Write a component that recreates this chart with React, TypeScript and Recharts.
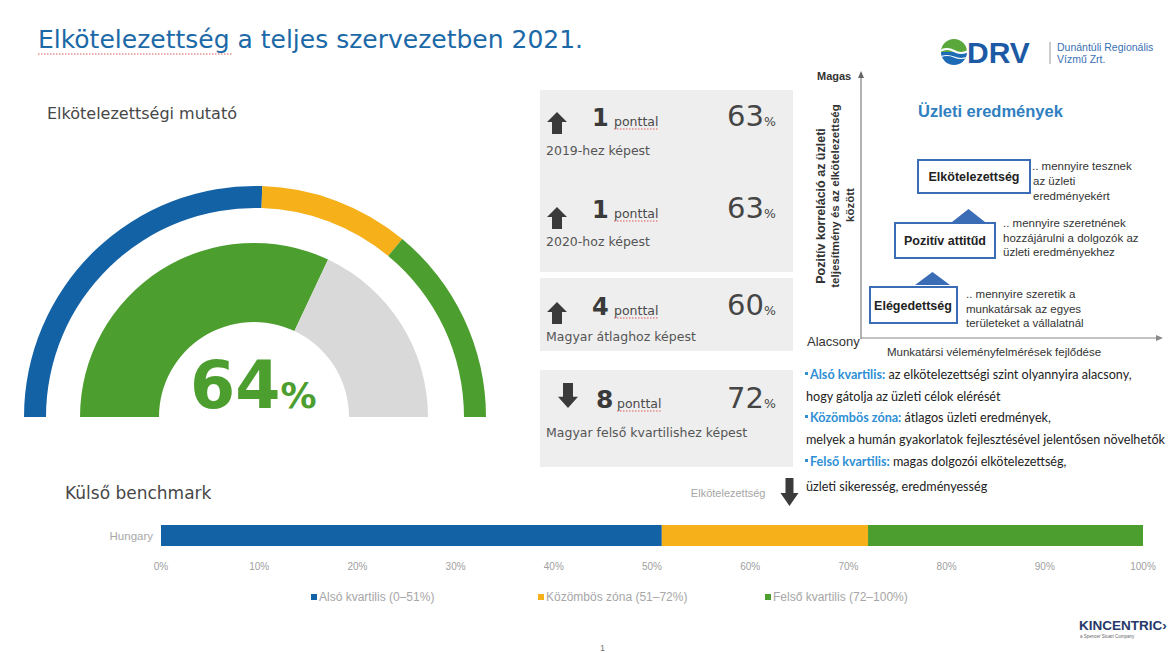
import React from 'react';
import { PieChart, Pie, Cell, BarChart, Bar, XAxis, YAxis, ReferenceLine } from 'recharts';

// quartile bands (benchmark + outer gauge ring)
const quartileKeys = ['also', 'kozombos', 'felso'];
const quartileNames = ['Alsó kvartilis', 'Közömbös zóna', 'Felső kvartilis'];
const quartileRanges = ['0–51%', '51–72%', '72–100%'];
const quartileWidths = [51, 21, 28];
const quartileColors = ['#1462a6', '#f5b01a', '#4c9e2f'];

// engagement gauge
const engagementScore = 64;
const gaugeNames = ['Elkötelezettség', 'Hátralévő'];
const gaugeValues = [64, 36];
const gaugeColors = ['#4c9e2f', '#d9d9d9'];

const benchmarkCategories = ['Hungary'];
const percentTicks = [0, 10, 20, 30, 40, 50, 60, 70, 80, 90, 100];

// comparison cards
const cardDeltas = [1, 1, 4, 8];
const cardUp = [true, true, true, false];
const cardComparisons = [
  '2019-hez képest',
  '2020-hoz képest',
  'Magyar átlaghoz képest',
  'Magyar felső kvartilishez képest',
];
const cardValues = [63, 63, 60, 72];

const SANS = 'DejaVu Sans';
const ARIAL = 'Liberation Sans';

const ringData = quartileNames.map((name, i) => ({ name, value: quartileWidths[i] }));
const gaugeData = gaugeNames.map((name, i) => ({ name, value: gaugeValues[i] }));
const benchmarkData = benchmarkCategories.map((name) => {
  const row: Record<string, string | number> = { name };
  quartileKeys.forEach((k, i) => {
    row[k] = quartileWidths[i];
  });
  return row;
});

function ArrowMarker({ viewBox }: any) {
  if (!viewBox) return null;
  const x = viewBox.x;
  const top = viewBox.y - 32;
  return (
    <g>
      <text x={x - 24} y={viewBox.y - 13} textAnchor="end" fontSize={11} fill="#a6a6a6" fontFamily={ARIAL}>
        Elkötelezettség
      </text>
      <path
        d={`M${x - 4} ${top} L${x + 4} ${top} L${x + 4} ${top + 15} L${x + 9} ${top + 15} L${x} ${top + 28} L${x - 9} ${top + 15} L${x - 4} ${top + 15} Z`}
        fill="#3b3b3b"
      />
    </g>
  );
}

function StatArrow({ cx, top, up, h }: { cx: number; top: number; up: boolean; h: number }) {
  const hw = 10;
  const sw = 5;
  const hh = h * 0.45;
  const d = up
    ? `M${cx} ${top} L${cx + hw} ${top + hh} L${cx + sw} ${top + hh} L${cx + sw} ${top + h} L${cx - sw} ${top + h} L${cx - sw} ${top + hh} L${cx - hw} ${top + hh} Z`
    : `M${cx} ${top + h} L${cx + hw} ${top + h - hh} L${cx + sw} ${top + h - hh} L${cx + sw} ${top} L${cx - sw} ${top} L${cx - sw} ${top + h - hh} L${cx - hw} ${top + h - hh} Z`;
  return <path d={d} fill="#3a3a3a" />;
}

const cardBoxes = [
  { top: 90, bottom: 180, main: 126, sub: 155, arrowX: 557, arrowTop: 112, arrowH: 22, numX: 592, pX: 614 },
  { top: 180, bottom: 272, main: 218, sub: 246, arrowX: 557, arrowTop: 207, arrowH: 22, numX: 592, pX: 614 },
  { top: 278, bottom: 351, main: 315, sub: 341, arrowX: 557, arrowTop: 302, arrowH: 22, numX: 592, pX: 614 },
  { top: 370, bottom: 467, main: 408, sub: 437, arrowX: 568, arrowTop: 383, arrowH: 25, numX: 596, pX: 617 },
];

function Background() {
  return (
    <svg width={1176} height={653} style={{ position: 'absolute', left: 0, top: 0 }}>
      {/* title */}
      <text x={38} y={48} fontSize={25} fill="#1c69a8" fontFamily={SANS}>
        Elkötelezettség a teljes szervezetben 2021.
      </text>
      <line x1={38} y1={54} x2={232} y2={54} stroke="#e05a5a" strokeWidth={1} strokeDasharray="1.5 1.5" />
      <text x={47} y={119} fontSize={16} fill="#474747" fontFamily={SANS}>
        Elkötelezettségi mutató
      </text>

      {/* DRV logo */}
      <defs>
        <clipPath id="drvclip">
          <circle cx={954} cy={52} r={13} />
        </clipPath>
      </defs>
      <g clipPath="url(#drvclip)">
        <rect x={940} y={38} width={28} height={14} fill="#5aa83c" />
        <rect x={940} y={52} width={28} height={14} fill="#1d6bb5" />
        <path d="M940 51 Q947 47 954 51 T968 51" stroke="#fff" strokeWidth={2.2} fill="none" />
        <path d="M940 57 Q947 54 954 57 T968 57" stroke="#fff" strokeWidth={1.1} fill="none" />
      </g>
      <text x={967} y={63} fontSize={30} fontWeight="bold" fill="#1c5aa6" fontFamily={ARIAL}>
        DRV
      </text>
      <line x1={1050} y1={42} x2={1050} y2={64} stroke="#9a9a9a" strokeWidth={1} />
      <text x={1057} y={51} fontSize={10.5} fill="#3a70b5" fontFamily={ARIAL}>
        Dunántúli Regionális
      </text>
      <text x={1057} y={63} fontSize={10.5} fill="#3a70b5" fontFamily={ARIAL}>
        Vízmű Zrt.
      </text>

      {/* gauge value */}
      <text x={190} y={408} fontSize={65} fontWeight="bold" fill="#4c9e2f" fontFamily={SANS}>
        {engagementScore}
        <tspan fontSize={36}>%</tspan>
      </text>

      {/* comparison cards */}
      {cardBoxes.map((b, i) => (
        <g key={i}>
          <rect x={540} y={b.top} width={253} height={b.bottom - b.top} fill="#eeeeee" />
          <StatArrow cx={b.arrowX} top={b.arrowTop} up={cardUp[i]} h={b.arrowH} />
          <text x={b.numX} y={b.main} fontSize={i === 3 ? 25 : 24} fontWeight="bold" fill="#3a3a3a" fontFamily={SANS}>
            {cardDeltas[i]}
          </text>
          <text x={b.pX} y={b.main} fontSize={12.5} fill="#4a4a4a" fontFamily={SANS}>
            ponttal
          </text>
          <line x1={b.pX} y1={b.main + 3} x2={b.pX + 44} y2={b.main + 3} stroke="#e05a5a" strokeWidth={1} strokeDasharray="1.5 1.5" />
          <text x={727} y={b.main} fontSize={29} fill="#454545" fontFamily={SANS}>
            {cardValues[i]}
            <tspan fontSize={12.5}>%</tspan>
          </text>
          <text x={546} y={b.sub} fontSize={12.5} fill="#555" fontFamily={SANS}>
            {cardComparisons[i]}
          </text>
        </g>
      ))}

      {/* right-hand diagram */}
      <text x={817} y={80} fontSize={11} fontWeight="bold" fill="#333" fontFamily={ARIAL}>
        Magas
      </text>
      <line x1={861} y1={339} x2={861} y2={75} stroke="#666" strokeWidth={1} />
      <path d="M858 78 L861 71 L864 78 Z" fill="#666" />
      <line x1={861} y1={338} x2={1158} y2={338} stroke="#888" strokeWidth={1} />
      <path d="M1156 335 L1163 338 L1156 341 Z" fill="#888" />
      <text x={807} y={346} fontSize={13} fill="#333" fontFamily={ARIAL}>
        Alacsony
      </text>
      <text x={887} y={356} fontSize={11.5} fill="#333" fontFamily={ARIAL}>
        Munkatársi véleményfelmérések fejlődése
      </text>
      <g transform="translate(825,206) rotate(-90)">
        <text textAnchor="middle" fontSize={12.5} fontWeight="bold" fill="#333" fontFamily={ARIAL}>
          Pozitív korreláció az üzleti
        </text>
      </g>
      <g transform="translate(839,196) rotate(-90)">
        <text textAnchor="middle" fontSize={11.5} fontWeight="bold" fill="#333" fontFamily={ARIAL}>
          teljesítmény és az elkötelezettség
        </text>
      </g>
      <g transform="translate(854,205) rotate(-90)">
        <text textAnchor="middle" fontSize={11.5} fontWeight="bold" fill="#333" fontFamily={ARIAL}>
          között
        </text>
      </g>
      <text x={918} y={117} fontSize={16.5} fontWeight="bold" fill="#2f7fc1" fontFamily={ARIAL}>
        Üzleti eredmények
      </text>

      <rect x={918} y={160} width={112} height={33} fill="#fff" stroke="#3a6db5" strokeWidth={2} />
      <text x={974} y={181} textAnchor="middle" fontSize={12.5} fontWeight="bold" fill="#222" fontFamily={ARIAL}>
        Elkötelezettség
      </text>
      <path d="M952 222 L968.5 209 L985 222 Z" fill="#3a6db5" />
      <rect x={895} y={223} width={100} height={35} fill="#fff" stroke="#3a6db5" strokeWidth={2} />
      <text x={945} y={245} textAnchor="middle" fontSize={12.5} fontWeight="bold" fill="#222" fontFamily={ARIAL}>
        Pozitív attitűd
      </text>
      <path d="M915 285 L932.5 272 L950 285 Z" fill="#3a6db5" />
      <rect x={870} y={287} width={87} height={36} fill="#fff" stroke="#3a6db5" strokeWidth={2} />
      <text x={913} y={310} textAnchor="middle" fontSize={12.5} fontWeight="bold" fill="#222" fontFamily={ARIAL}>
        Elégedettség
      </text>

      <g fontSize={11.5} fill="#333" fontFamily={ARIAL}>
        <text x={1032} y={170}>.. mennyire tesznek</text>
        <text x={1033} y={185}>az üzleti</text>
        <text x={1033} y={200}>eredményekért</text>
        <text x={1003} y={227}>.. mennyire szeretnének</text>
        <text x={1003} y={242}>hozzájárulni a dolgozók az</text>
        <text x={1003} y={256}>üzleti eredményekhez</text>
        <text x={966} y={298}>.. mennyire szeretik a</text>
        <text x={966} y={313}>munkatársak az egyes</text>
        <text x={966} y={327}>területeket a vállalatnál</text>
      </g>

      {/* quartile notes */}
      <g fontSize={12.6} fill="#222" fontFamily="Lato">
        <rect x={805} y={372} width={3} height={3} fill="#2e8fd4" />
        <text x={810} y={379}>
          <tspan fontWeight="bold" fill="#2e8fd4">Alsó kvartilis:</tspan> az elkötelezettségi szint olyannyira alacsony,
        </text>
        <text x={806} y={401}>hogy gátolja az üzleti célok elérését</text>
        <rect x={805} y={415} width={3} height={3} fill="#2e8fd4" />
        <text x={810} y={422}>
          <tspan fontWeight="bold" fill="#2e8fd4">Közömbös zóna:</tspan> átlagos üzleti eredmények,
        </text>
        <text x={806} y={444}>melyek a humán gyakorlatok fejlesztésével jelentősen növelhetők</text>
        <rect x={805} y={459} width={3} height={3} fill="#2e8fd4" />
        <text x={810} y={466}>
          <tspan fontWeight="bold" fill="#2e8fd4">Felső kvartilis:</tspan> magas dolgozói elkötelezettség,
        </text>
        <text x={806} y={491}>üzleti sikeresség, eredményesség</text>
      </g>

      <text x={65} y={499} fontSize={17} fill="#474747" fontFamily={SANS}>
        Külső benchmark
      </text>

      {/* legend of benchmark bar */}
      {quartileNames.map((name, i) => {
        const lx = [311, 538, 765][i];
        return (
          <g key={name}>
            <rect x={lx} y={594} width={6} height={6} fill={quartileColors[i]} />
            <text x={lx + 8} y={601} fontSize={12} fill="#a6a6a6" fontFamily={ARIAL}>
              {`${name} (${quartileRanges[i]})`}
            </text>
          </g>
        );
      })}

      {/* Kincentric logo + page number */}
      <text x={1079} y={630} fontSize={13.5} fontWeight="bold" fill="#26386a" fontFamily={ARIAL}>
        KINCENTRIC›
      </text>
      <text x={1080} y={638} fontSize={4.5} fill="#666" fontFamily={ARIAL}>
        a Spencer Stuart Company
      </text>
      <text x={600} y={651} fontSize={9} fill="#777" fontFamily={ARIAL}>
        1
      </text>
    </svg>
  );
}

export default function App() {
  return (
    <div
      style={{
        position: 'absolute',
        left: 0,
        top: 0,
        width: 1176,
        height: 653,
        overflow: 'hidden',
        background: '#ffffff',
        fontFamily: SANS,
      }}
    >
      <Background />

      <div style={{ position: 'absolute', left: 0, top: 150 }}>
        <PieChart width={500} height={300}>
          <Pie
            data={ringData}
            dataKey="value"
            nameKey="name"
            cx={250}
            cy={262}
            startAngle={180}
            endAngle={0}
            innerRadius={209}
            outerRadius={231}
            stroke="none"
            isAnimationActive={false}
          >
            {ringData.map((d, i) => (
              <Cell key={d.name} fill={quartileColors[i]} />
            ))}
          </Pie>
          <Pie
            data={gaugeData}
            dataKey="value"
            nameKey="name"
            cx={249}
            cy={262}
            startAngle={180}
            endAngle={0}
            innerRadius={95}
            outerRadius={174}
            stroke="none"
            isAnimationActive={false}
          >
            {gaugeData.map((d, i) => (
              <Cell key={d.name} fill={gaugeColors[i]} />
            ))}
          </Pie>
        </PieChart>
      </div>

      <div style={{ position: 'absolute', left: 0, top: 470 }}>
        <BarChart
          width={1176}
          height={121}
          data={benchmarkData}
          layout="vertical"
          margin={{ top: 40, right: 33, bottom: 0, left: 0 }}
        >
          <XAxis
            type="number"
            domain={[0, 100]}
            ticks={percentTicks}
            interval={0}
            tickFormatter={(v) => `${v}%`}
            axisLine={false}
            tickLine={false}
            tickSize={0}
            height={30}
            tick={{ fontSize: 10, fill: '#a0a0a0', fontFamily: ARIAL }}
          />
          <YAxis
            type="category"
            dataKey="name"
            width={161}
            axisLine={false}
            tickLine={false}
            tick={{ fontSize: 11.5, fill: '#a8a8a8', fontFamily: ARIAL }}
          />
          {quartileKeys.map((k, i) => (
            <Bar
              key={k}
              dataKey={k}
              name={quartileNames[i]}
              stackId="benchmark"
              fill={quartileColors[i]}
              barSize={21}
              isAnimationActive={false}
            />
          ))}
          <ReferenceLine
            x={engagementScore}
            stroke="none"
            label={(p: any) => <ArrowMarker viewBox={p.viewBox} />}
          />
        </BarChart>
      </div>
    </div>
  );
}
